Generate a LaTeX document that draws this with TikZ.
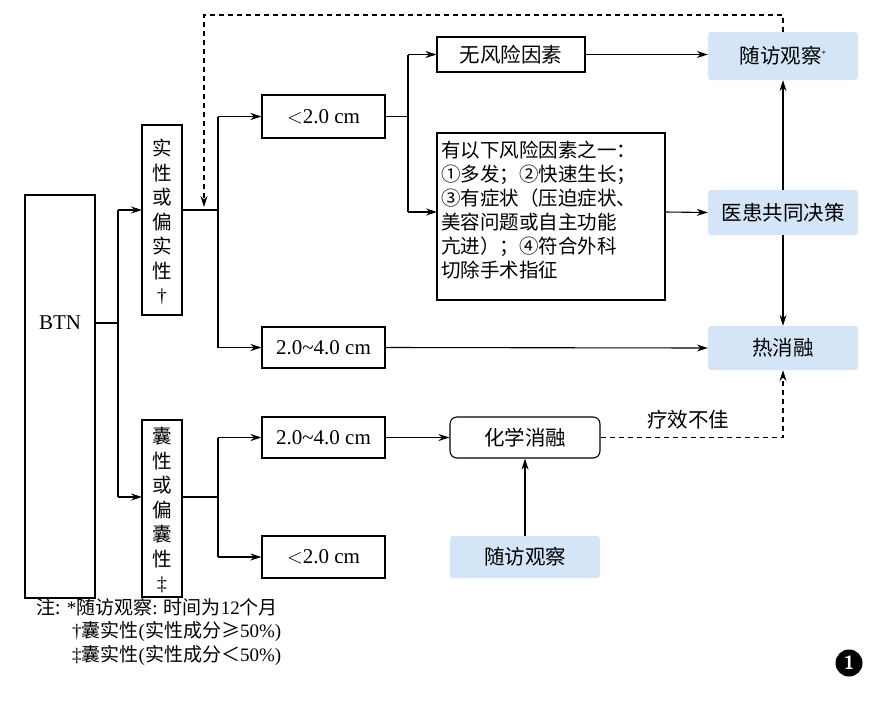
\documentclass[tikz,border=0pt]{standalone}
\usepackage{fontspec}
\setmainfont{Liberation Serif}
\newfontfamily\cjk{Noto Sans CJK SC}
\usetikzlibrary{arrows.meta}
\definecolor{bl}{HTML}{D3E5F6}
\begin{document}
\begin{tikzpicture}[x=1pt,y=-1pt,
  bx/.style={draw,line width=1.1pt,inner sep=0},
  bb/.style={fill=bl,rounded corners=3pt,inner sep=0},
  ar/.style={-{Stealth[length=11pt,width=7pt]},line width=1.1pt},
  ln/.style={line width=1.1pt},
  dsh/.style={dash pattern=on 5pt off 4pt},
  t/.style={font=\fontsize{21}{23}\selectfont},
  ct/.style={font=\cjk\fontsize{20.5}{23}\selectfont}]
\useasboundingbox (0,0) rectangle (872,707);
\fill[white] (0,0) rectangle (872,707);
% boxes
\draw[bx] (25,195) rectangle (95,598); \node[t] (btn) at (60,323) {BTN};
\coordinate (btnr) at (95,323);
\draw[bx] (142,125) rectangle (182,315);
\node[align=center,font=\cjk\fontsize{19.5}{24.5}\selectfont] (sx) at (162,222) {实\\性\\或\\偏\\实\\性\\{\rmfamily †}};
\draw[bx] (142,420) rectangle (182,597);
\node[align=center,font=\cjk\fontsize{19.5}{24.5}\selectfont] (nx) at (162,510) {囊\\性\\或\\偏\\囊\\性\\{\rmfamily ‡}};
\node[bx,minimum width=123pt,minimum height=43pt,t] (a1) at (323.5,116.5) {$<$2.0 cm};
\node[bx,minimum width=123pt,minimum height=41pt,t] (a2) at (323.5,347.5) {2.0\textasciitilde4.0 cm};
\node[bx,minimum width=123pt,minimum height=41pt,t] (b1) at (323.5,437.5) {2.0\textasciitilde4.0 cm};
\node[bx,minimum width=123pt,minimum height=42pt,t] (b2) at (323.5,557) {$<$2.0 cm};
\node[bx,minimum width=148pt,minimum height=35pt,ct] (c1) at (511,54.5) {无风险因素};
\draw[bx] (437,133) rectangle (665,300);
\node[anchor=north west,align=left,font=\cjk\fontsize{19.5}{24}\selectfont,inner sep=0] (c2) at (441,141) {有以下风险因素之一：\\①多发；②快速生长；\\③有症状（压迫症状、\\美容问题或自主功能\\亢进）；④符合外科\\切除手术指征};
\coordinate (c2l) at (437,212);
\coordinate (c2r) at (665,212);
\node[bb,minimum width=150pt,minimum height=48pt,ct] (d1) at (783,56) {随访观察\textsuperscript{\rmfamily\footnotesize *}};
\node[bb,minimum width=150pt,minimum height=45pt,ct] (d2) at (783,212.5) {医患共同决策};
\node[bb,minimum width=150pt,minimum height=44pt,ct] (d3) at (783,348) {热消融};
\node[draw,line width=1.1pt,rounded corners=7pt,minimum width=150pt,minimum height=41pt,ct] (e1) at (525,437.5) {化学消融};
\node[bb,minimum width=150pt,minimum height=42pt,ct] (e2) at (525,557) {随访观察};
% connectors
\draw[ln] (btnr) -- (118,323);
\draw[ar] (118,210) -- (142,210); \draw[ar] (118,497) -- (142,497);
\draw[ln] (118,210) -- (118,497);
\draw[ln] (182,210) -- (218,210) (218,116.5) -- (218,347.5);
\draw[ar] (218,116.5) -- (a1.west); \draw[ar] (218,347.5) -- (a2.west);
\draw[ln] (182,497) -- (218,497) (218,437.5) -- (218,557);
\draw[ar] (218,437.5) -- (b1.west); \draw[ar] (218,557) -- (b2.west);
\draw[ln] (a1.east) -- (408,116.5) (408,54.5) -- (408,212);
\draw[ar] (408,54.5) -- (c1.west); \draw[ar] (408,212) -- (c2l);
\draw[ar] (c1.east) -- (d1.west|-c1.east);
\draw[ar] (c2r) -- (d2.west);
\draw[ar] (a2.east) -- (d3.west);
\draw[ar] (d2.north) -- (d1.south);
\draw[ar] (d2.south) -- (d3.north);
\draw[ar] (b1.east) -- (e1.west);
\draw[ar] (e2.north) -- (e1.south);
\draw[ar,dsh] (e1.east) -- (783,437.5) -- (d3.south);
\node[ct] (lbl) at (688,420) {疗效不佳};
\draw[ar,dsh] (d1.north) -- (783,15) -- (204,15) -- (204,207);
% notes
\node[anchor=north west,align=left,inner sep=0,font=\fontsize{19}{23.5}\selectfont] (n) at (36,598) {{\cjk 注:} *{\cjk 随访观察}: {\cjk 时间为}12{\cjk 个月}\\
\hspace{36pt}†{\cjk 囊实性}({\cjk 实性成分}{\cjk ≥}50\%)\\
\hspace{36pt}‡{\cjk 囊实性}({\cjk 实性成分}{\cjk ＜}50\%)};
\node[circle,fill=black,text=white,inner sep=0,minimum size=27pt,font=\sffamily\bfseries\fontsize{19}{21}\selectfont] (num) at (849,663) {1};
\end{tikzpicture}
\end{document}
